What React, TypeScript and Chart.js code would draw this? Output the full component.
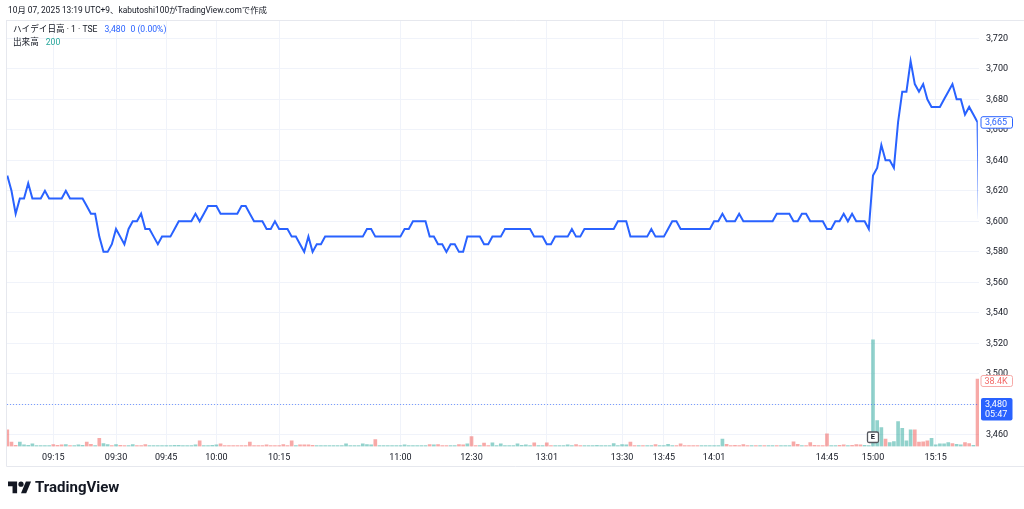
import React, { useEffect, useRef } from 'react';
import { Chart, registerables } from 'chart.js';

Chart.register(...registerables);

// ---- data (1-minute bars, index = traded minute) ----
const prices = [
  3630, 3620, 3605, 3615, 3615, 3625, 3615, 3615, 3615, 3620,
  3615, 3615, 3615, 3615, 3620, 3615, 3615, 3615, 3615, 3610,
  3605, 3605, 3590, 3580, 3580, 3585, 3595, 3590, 3585, 3595,
  3600, 3600, 3605, 3595, 3595, 3590, 3585, 3590, 3590, 3590,
  3595, 3600, 3600, 3600, 3600, 3605, 3600, 3605, 3610, 3610,
  3610, 3605, 3605, 3605, 3605, 3605, 3610, 3610, 3605, 3600,
  3600, 3600, 3595, 3595, 3600, 3595, 3595, 3595, 3590, 3590,
  3585, 3580, 3590, 3580, 3585, 3585, 3590, 3590, 3590, 3590,
  3590, 3590, 3590, 3590, 3590, 3590, 3595, 3595, 3590, 3590,
  3590, 3590, 3590, 3590, 3590, 3595, 3595, 3600, 3600, 3600,
  3600, 3590, 3590, 3585, 3585, 3580, 3585, 3585, 3580, 3580,
  3590, 3590, 3590, 3590, 3585, 3585, 3590, 3590, 3590, 3595,
  3595, 3595, 3595, 3595, 3595, 3595, 3590, 3590, 3590, 3585,
  3585, 3590, 3590, 3590, 3590, 3595, 3590, 3590, 3595, 3595,
  3595, 3595, 3595, 3595, 3595, 3595, 3600, 3600, 3600, 3590,
  3590, 3590, 3590, 3590, 3595, 3590, 3590, 3590, 3595, 3600,
  3600, 3595, 3595, 3595, 3595, 3595, 3595, 3595, 3595, 3600,
  3600, 3605, 3600, 3600, 3600, 3605, 3600, 3600, 3600, 3600,
  3600, 3600, 3600, 3600, 3605, 3605, 3605, 3605, 3600, 3600,
  3605, 3605, 3600, 3600, 3600, 3600, 3595, 3595, 3600, 3600,
  3605, 3600, 3605, 3600, 3600, 3600, 3595, 3630, 3635, 3650,
  3640, 3640, 3635, 3665, 3685, 3685, 3705, 3690, 3685, 3690,
  3680, 3675, 3675, 3675, 3680, 3685, 3690, 3680, 3680, 3670,
  3675, 3670, 3665, 3480,
];

const volumes = [
  9500, 2500, 600, 2500, 1000, 600, 1500, 500, 500, 500,
  500, 1100, 600, 900, 1100, 500, 500, 900, 700, 2500,
  1300, 500, 4700, 1700, 1100, 500, 1100, 700, 500, 500,
  1100, 500, 500, 1100, 500, 500, 500, 500, 500, 500,
  700, 700, 500, 500, 500, 900, 3200, 500, 500, 700,
  900, 1500, 500, 500, 500, 500, 500, 500, 2500, 500,
  500, 500, 900, 500, 500, 500, 1100, 500, 3200, 500,
  900, 900, 900, 700, 500, 500, 500, 500, 500, 500,
  500, 1500, 500, 500, 500, 1500, 1100, 900, 4000, 500,
  500, 500, 500, 500, 500, 900, 500, 500, 500, 500,
  500, 1100, 900, 1100, 500, 500, 500, 500, 1100, 900,
  1500, 5700, 500, 500, 1900, 500, 2100, 500, 1500, 500,
  500, 500, 1500, 700, 900, 500, 2100, 500, 500, 2100,
  500, 500, 500, 500, 900, 500, 1100, 500, 500, 500,
  500, 700, 500, 500, 500, 1700, 500, 1100, 900, 2500,
  500, 500, 500, 500, 500, 1100, 500, 500, 1300, 500,
  500, 1500, 500, 500, 500, 500, 500, 500, 500, 500,
  500, 4200, 1300, 500, 700, 500, 1100, 500, 500, 500,
  500, 500, 500, 500, 500, 500, 500, 500, 2700, 1300,
  500, 500, 2300, 700, 500, 500, 7200, 500, 500, 700,
  900, 500, 700, 1100, 900, 700, 500, 60700, 14800, 10800,
  4200, 2300, 2800, 14200, 10400, 3200, 9500, 9500, 2500, 2700,
  3200, 4600, 1000, 1500, 1500, 2300, 1700, 1300, 1000, 2300,
  1700, 600, 38400, 200,
];

// u = up (teal), d = down (red) candle of each minute
const volumeDirs = (
  'ddduuuuuuu' + 'uddduduuud' + 'duduududdu' + 'uddduuuuuu' + 'uuuuuuduuu' +
  'uddddddddd' + 'dddddddddu' + 'dddduuuuuu' + 'uuuuuuuudu' + 'uuuuuuuuuu' +
  'ududdduudd' + 'uddudduuuu' + 'uuuuuuduud' + 'duuuuudduu' + 'uuuuuuuuud' +
  'duduuduuuu' + 'dddddduuuu' + 'uuddddddud' + 'uduuduuudd' + 'udddddduud' +
  'duddduuuuu' + 'duuuuuuddd' + 'duuuuuduud' + 'dudd'
).split('');

const timeTickIndex = [-3, 11, 26, 38, 50, 65, 94, 111, 129, 147, 157, 169, 196, 207, 222];
const timeTickLabels = ['09:05', '09:15', '09:30', '09:45', '10:00', '10:15', '11:00', '12:30', '13:01', '13:30', '13:45', '14:01', '14:45', '15:00', '15:15'];

const priceMin = 3452.4;
const priceMax = 3732;
const priceStep = 20;
const volumeAxisMax = 242600;

const lastPrice = 3480;
const lastVolume = 200;
const countdown = '05:47';
const earningsIndex = 207;

const headerText = '10月 07, 2025 13:19 UTC+9、kabutoshi100がTradingView.comで作成';
const symbolText = 'ハイデイ日高 · 1 · TSE';
const changeText = '0 (0.00%)';
const volumeTitle = '出来高';

const FONT = 'Roboto, "Noto Sans CJK JP", "Noto Sans", sans-serif';
const TEXT = '#131722';
const BLUE = '#2962ff';
const TEAL_BAR = 'rgba(38,166,154,0.5)';
const RED_BAR = 'rgba(239,83,80,0.5)';
const GRID = '#f0f3fa';

const fmt = (v: number) => v.toLocaleString('en-US');
const fmtK = (v: number) => (v >= 1000 ? (v / 1000).toFixed(1) + 'K' : String(v));

function roundRect(ctx: CanvasRenderingContext2D, x: number, y: number, w: number, h: number, r: number) {
  ctx.beginPath();
  ctx.moveTo(x + r, y);
  ctx.lineTo(x + w - r, y);
  ctx.quadraticCurveTo(x + w, y, x + w, y + r);
  ctx.lineTo(x + w, y + h - r);
  ctx.quadraticCurveTo(x + w, y + h, x + w - r, y + h);
  ctx.lineTo(x + r, y + h);
  ctx.quadraticCurveTo(x, y + h, x, y + h - r);
  ctx.lineTo(x, y + r);
  ctx.quadraticCurveTo(x, y, x + r, y);
  ctx.closePath();
}

const decor = {
  id: 'decor',
  beforeDraw(chart: any) {
    const { ctx, width, height } = chart;
    ctx.save();
    ctx.fillStyle = '#ffffff';
    ctx.fillRect(0, 0, width, height);
    ctx.restore();
  },
  afterDatasetsDraw(chart: any) {
    const { ctx, chartArea: a, scales } = chart;
    const py = Math.round(scales.y.getPixelForValue(lastPrice)) + 0.5;
    ctx.save();
    ctx.strokeStyle = 'rgba(41,98,255,0.6)';
    ctx.lineWidth = 1;
    ctx.setLineDash([1, 2]);
    ctx.beginPath();
    ctx.moveTo(a.left, py);
    ctx.lineTo(a.right, py);
    ctx.stroke();
    ctx.restore();
  },
  afterDraw(chart: any) {
    const { ctx, chartArea: a, scales } = chart;
    const xs = scales.x;
    const ys = scales.y;
    const vs = scales.vol;
    ctx.save();

    // pane borders
    ctx.strokeStyle = '#e6e8ee';
    ctx.lineWidth = 1;
    ctx.beginPath();
    ctx.moveTo(a.left - 0.5, a.top + 0.5);
    ctx.lineTo(1024, a.top + 0.5);
    ctx.moveTo(a.left - 0.5, 466.5);
    ctx.lineTo(1024, 466.5);
    ctx.moveTo(a.left - 0.5, a.top);
    ctx.lineTo(a.left - 0.5, 466.5);
    ctx.stroke();

    // header
    ctx.textBaseline = 'middle';
    ctx.textAlign = 'left';
    ctx.fillStyle = TEXT;
    ctx.font = `8.4px ${FONT}`;
    ctx.fillText(headerText, 8, 11);

    // legend
    ctx.font = `8.6px ${FONT}`;
    ctx.fillStyle = TEXT;
    ctx.fillText(symbolText, 13, 30);
    let x = 13 + ctx.measureText(symbolText).width + 7;
    ctx.fillStyle = BLUE;
    ctx.fillText(fmt(lastPrice), x, 30);
    x += ctx.measureText(fmt(lastPrice)).width + 5;
    ctx.fillText(changeText, x, 30);
    ctx.fillStyle = TEXT;
    ctx.fillText(volumeTitle, 13, 43);
    ctx.fillStyle = '#26a69a';
    ctx.fillText(String(lastVolume), 13 + ctx.measureText(volumeTitle).width + 7, 43);

    // clipped first time label
    ctx.save();
    ctx.beginPath();
    ctx.rect(a.left - 1, a.bottom, 200, 20);
    ctx.clip();
    ctx.font = `9px ${FONT}`;
    ctx.fillStyle = TEXT;
    ctx.textAlign = 'center';
    ctx.fillText(timeTickLabels[0], xs.getPixelForValue(timeTickIndex[0]), 457);
    ctx.restore();

    // earnings marker
    const ex = xs.getPixelForValue(earningsIndex);
    ctx.fillStyle = '#ffffff';
    ctx.strokeStyle = '#55585f';
    ctx.lineWidth = 1.3;
    roundRect(ctx, ex - 5.5, a.bottom - 14.5, 11, 10.5, 1.5);
    ctx.fill();
    ctx.stroke();
    ctx.fillStyle = TEXT;
    ctx.font = `bold 7.5px ${FONT}`;
    ctx.textAlign = 'center';
    ctx.fillText('E', ex, a.bottom - 9);

    // right axis labels
    const lx = a.right + 1.5;
    const bw = 31.5;
    const closeVal = prices[prices.length - 2];
    const cy = ys.getPixelForValue(closeVal);
    ctx.textAlign = 'left';
    ctx.font = `9px ${FONT}`;
    ctx.fillStyle = '#ffffff';
    ctx.strokeStyle = BLUE;
    ctx.lineWidth = 1;
    roundRect(ctx, lx + 0.5, cy - 5.5, bw, 11.5, 2);
    ctx.fill();
    ctx.stroke();
    ctx.fillStyle = BLUE;
    ctx.fillText(fmt(closeVal), lx + 4.5, cy + 0.5);

    const closeVol = volumes[volumes.length - 2];
    const vy = vs.getPixelForValue(closeVol) + 2;
    ctx.fillStyle = '#ffffff';
    ctx.strokeStyle = '#f7a9a7';
    roundRect(ctx, lx + 0.5, vy - 5.5, bw, 11, 2);
    ctx.fill();
    ctx.stroke();
    ctx.fillStyle = '#f26b69';
    ctx.fillText(fmtK(closeVol), lx + 4, vy + 0.5);

    const py = ys.getPixelForValue(lastPrice);
    ctx.fillStyle = BLUE;
    roundRect(ctx, lx + 0.5, py - 6.5, bw, 22.5, 2);
    ctx.fill();
    ctx.fillStyle = '#ffffff';
    ctx.fillText(fmt(lastPrice), lx + 4.5, py);
    ctx.fillText(countdown, lx + 4.5, py + 10);

    // footer logo
    ctx.save();
    ctx.translate(8, 479);
    ctx.scale(0.65, 0.65);
    ctx.fillStyle = TEXT;
    ctx.fill(new Path2D('M14 22H7V11H0V4h14v18zM28 22h-8l7.5-18h8L28 22z'));
    ctx.beginPath();
    ctx.arc(20, 8, 4, 0, Math.PI * 2);
    ctx.fill();
    ctx.restore();
    ctx.fillStyle = TEXT;
    ctx.font = `bold 15px ${FONT}`;
    ctx.textAlign = 'left';
    ctx.fillText('TradingView', 35, 488);

    ctx.restore();
  },
};

export default function App() {
  const ref = useRef<HTMLCanvasElement | null>(null);

  useEffect(() => {
    document.body.style.margin = '0';
    const canvas = ref.current;
    if (!canvas) return;
    const visibleTicks = timeTickIndex.filter((v) => v >= 0);
    const chart = new Chart(canvas, {
      type: 'bar',
      data: {
        datasets: [
          {
            type: 'line',
            label: 'price',
            data: prices.map((p, i) => ({ x: i, y: p })),
            yAxisID: 'y',
            xAxisID: 'x',
            borderColor: BLUE,
            borderWidth: 2,
            pointRadius: 0,
            tension: 0,
            order: 0,
            clip: { left: 0, top: 0, right: -1.2, bottom: 0 },
          } as any,
          {
            type: 'bar',
            label: 'volume',
            data: volumes.map((v, i) => ({ x: i, y: v })),
            yAxisID: 'vol',
            xAxisID: 'x',
            backgroundColor: volumeDirs.map((d) => (d === 'u' ? TEAL_BAR : RED_BAR)),
            barThickness: 3,
            order: 1,
          } as any,
        ],
      },
      options: {
        responsive: false,
        animation: false,
        devicePixelRatio: 1,
        layout: { padding: { left: 7, top: 20, right: 0, bottom: 42.5 } },
        plugins: { legend: { display: false }, tooltip: { enabled: false } },
        scales: {
          x: {
            type: 'linear',
            min: -0.07,
            max: 232.35,
            offset: false,
            grid: { color: GRID, drawTicks: false, offset: false },
            border: { display: false },
            ticks: {
              autoSkip: false,
              maxRotation: 0,
              padding: 6,
              color: TEXT,
              font: { family: FONT, size: 9 },
              callback: (v: any) => {
                const k = timeTickIndex.indexOf(Number(v));
                return k >= 0 ? timeTickLabels[k] : '';
              },
            },
            afterBuildTicks: (s: any) => {
              s.ticks = visibleTicks.map((v) => ({ value: v }));
            },
            afterFit: (s: any) => {
              s.height = 20;
            },
          },
          y: {
            type: 'linear',
            position: 'right',
            min: priceMin,
            max: priceMax,
            grid: { color: GRID, drawTicks: false },
            border: { display: false },
            ticks: {
              stepSize: priceStep,
              includeBounds: false,
              padding: 7,
              color: TEXT,
              font: { family: FONT, size: 9 },
              callback: (v: any) => fmt(Number(v)),
            },
            afterFit: (s: any) => {
              s.width = 45;
            },
          },
          vol: {
            type: 'linear',
            display: false,
            min: 0,
            max: volumeAxisMax,
          },
        },
      },
      plugins: [decor],
    } as any);
    return () => chart.destroy();
  }, []);

  return (
    <div style={{ width: 1024, height: 509 }}>
      <canvas ref={ref} width={1024} height={509} style={{ display: 'block' }} />
    </div>
  );
}
